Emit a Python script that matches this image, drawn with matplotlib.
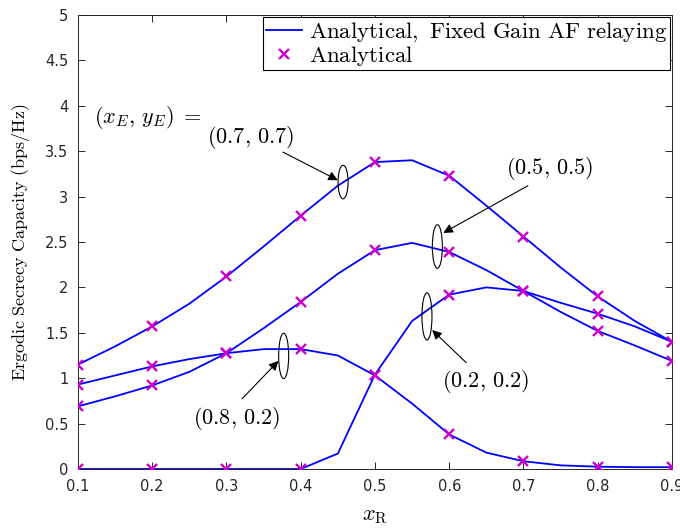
import numpy as np
import matplotlib
matplotlib.use('Agg')
import matplotlib.pyplot as plt
from matplotlib.patches import Ellipse
from matplotlib.ticker import FormatStrFormatter

plt.rcParams['mathtext.fontset'] = 'cm'
plt.rcParams['font.family'] = ['DejaVu Sans']

x_R = [0.1, 0.15, 0.2, 0.25, 0.3, 0.35, 0.4, 0.45, 0.5, 0.55, 0.6,
       0.65, 0.7, 0.75, 0.8, 0.85, 0.9]
cap_07_07 = [1.15, 1.35, 1.57, 1.82, 2.12, 2.45, 2.79, 3.12, 3.38, 3.40,
             3.23, 2.90, 2.56, 2.22, 1.90, 1.63, 1.40]
cap_05_05 = [0.69, 0.80, 0.92, 1.07, 1.275, 1.55, 1.84, 2.15, 2.41, 2.49,
             2.39, 2.19, 1.96, 1.73, 1.52, 1.36, 1.19]
cap_08_02 = [0.93, 1.03, 1.13, 1.21, 1.275, 1.32, 1.32, 1.25, 1.03, 0.72,
             0.38, 0.18, 0.085, 0.04, 0.025, 0.02, 0.02]
cap_02_02 = [0, 0, 0, 0, 0, 0, 0, 0.17, 1.04, 1.63, 1.92, 2.00, 1.96,
             1.83, 1.71, 1.57, 1.40]
curves = [cap_07_07, cap_05_05, cap_08_02, cap_02_02]

x_ticks = [0.1, 0.2, 0.3, 0.4, 0.5, 0.6, 0.7, 0.8, 0.9]
y_ticks = [0, 0.5, 1, 1.5, 2, 2.5, 3, 3.5, 4, 4.5, 5]

blue = '#0000FF'
mag = '#CC00CC'

fig = plt.figure(figsize=(6.8, 5.31), dpi=100)
ax = fig.add_axes([0.1147, 0.1168, 0.8735, 0.855])

xs = np.array(x_R)
for i, c in enumerate(curves):
    c = np.array(c)
    ln, = ax.plot(xs, c, color=blue, lw=1.3, zorder=2)
    mk, = ax.plot(xs[::2], c[::2], ls='none', marker='x', color=mag,
                  ms=6.5, mew=1.7, zorder=3)
    if i == 0:
        h_line, h_mark = ln, mk

ax.set_xlim(0.1, 0.9)
ax.set_ylim(0, 5)
ax.set_xticks(x_ticks)
ax.set_yticks(y_ticks)
ax.xaxis.set_major_formatter(FormatStrFormatter('%g'))
ax.yaxis.set_major_formatter(FormatStrFormatter('%g'))
ax.tick_params(direction='in', top=True, right=True, length=5, width=0.7,
               labelsize=10.5, colors='#262626', pad=7)
for s in ax.spines.values():
    s.set_color('#262626')
    s.set_linewidth(0.7)

ax.set_xlabel(r'$x_{\mathrm{R}}$', fontsize=16, labelpad=9)
ax.set_ylabel(r'$\mathrm{Ergodic\ Secrecy\ Capacity\ (bps/Hz)}$',
              fontsize=13, labelpad=9)

leg = ax.legend([h_line, h_mark],
                [r'$\mathrm{Analytical,\ Fixed\ Gain\ AF\ relaying}$',
                 r'$\mathrm{Analytical}$'],
                loc='upper right', fontsize=16.5, fancybox=False,
                edgecolor='black', framealpha=1, borderaxespad=0.1,
                borderpad=0.1, labelspacing=0.0, handlelength=1.6,
                handletextpad=0.3)
leg.get_frame().set_linewidth(0.8)

# ellipses grouping curves
ellipses = [(0.457, 3.16, 0.0135, 0.37),
            (0.584, 2.45, 0.0135, 0.48),
            (0.570, 1.68, 0.0135, 0.52),
            (0.377, 1.245, 0.0135, 0.50)]
for ex, ey, ew, eh in ellipses:
    ax.add_patch(Ellipse((ex, ey), ew, eh, fill=False, edgecolor='black',
                         lw=0.8, zorder=4))

aprops = dict(arrowstyle='-|>', color='black', lw=0.8, mutation_scale=14,
              shrinkA=0, shrinkB=0)
fs = 16
ax.text(0.1216, 3.87, r'$(x_E,\,y_E)\;=$', fontsize=fs, ha='left', va='center')
ax.annotate('', xy=(0.450, 3.18), xytext=(0.376, 3.49), arrowprops=aprops)
ax.text(0.333, 3.65, r'$(0.7,\,0.7)$', fontsize=fs, ha='center', va='center')
ax.annotate('', xy=(0.592, 2.60), xytext=(0.706, 3.12), arrowprops=aprops)
ax.text(0.735, 3.31, r'$(0.5,\,0.5)$', fontsize=fs, ha='center', va='center')
ax.annotate('', xy=(0.577, 1.53), xytext=(0.623, 1.17), arrowprops=aprops)
ax.text(0.649, 0.96, r'$(0.2,\,0.2)$', fontsize=fs, ha='center', va='center')
ax.annotate('', xy=(0.370, 1.19), xytext=(0.321, 0.773), arrowprops=aprops)
ax.text(0.313, 0.553, r'$(0.8,\,0.2)$', fontsize=fs, ha='center', va='center')

fig.savefig('out.png', dpi=100)
